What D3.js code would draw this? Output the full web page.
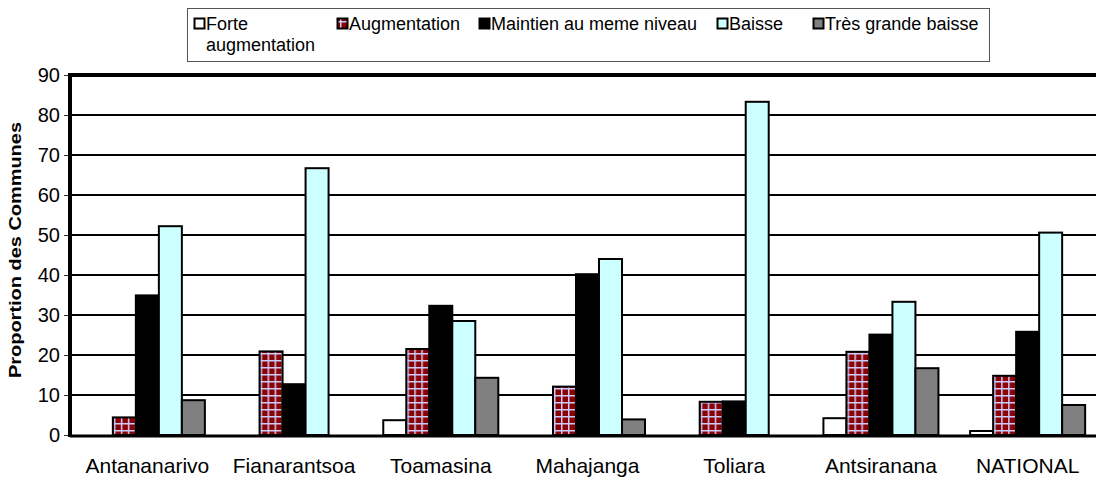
<!DOCTYPE html>
<html>
<head>
<meta charset="utf-8">
<script src="https://cdn.jsdelivr.net/npm/d3@7"></script>
<style>
  body { margin: 0; background: #fff; }
  text { font-family: "Liberation Sans", Arial, sans-serif; }
</style>
</head>
<body>
<script>
    // data
    const regions = ["Antananarivo", "Fianarantsoa", "Toamasina", "Mahajanga", "Toliara", "Antsiranana", "NATIONAL"];
    const seriesNames = ["Forte augmentation", "Augmentation", "Maintien au meme niveau", "Baisse", "Très grande baisse"];
    const forte = [0, 0, 3.7, 0, 0, 4.2, 1.0];
    const augmentation = [4.4, 20.9, 21.5, 12.1, 8.3, 20.8, 14.8];
    const maintien = [34.9, 12.7, 32.3, 40.2, 8.4, 25.1, 25.8];
    const baisse = [52.2, 66.7, 28.5, 44.0, 83.3, 33.3, 50.6];
    const tresBaisse = [8.7, 0, 14.3, 3.9, 0, 16.7, 7.5];
    const yTicks = [0, 10, 20, 30, 40, 50, 60, 70, 80, 90];

    const values = [forte, augmentation, maintien, baisse, tresBaisse];

    const W = 1096, H = 480;
    const plot = { left: 72, right: 1101, top: 75, bottom: 435 };

    const svg = d3.select("body").append("svg")
        .attr("width", W)
        .attr("height", H);

    // hatch for "Augmentation"
    const defs = svg.append("defs");
    const pat = defs.append("pattern")
        .attr("id", "grid")
        .attr("patternUnits", "userSpaceOnUse")
        .attr("width", 7).attr("height", 7);
    pat.append("rect").attr("width", 7).attr("height", 7).attr("fill", "#8b0000");
    pat.append("rect").attr("x", 3).attr("width", 1.5).attr("height", 7).attr("fill", "#ccccff");
    pat.append("rect").attr("y", 3).attr("width", 7).attr("height", 1.5).attr("fill", "#ccccff");

    const fills = ["#ffffff", "url(#grid)", "#000000", "#ccffff", "#808080"];

    const x0 = d3.scaleBand()
        .domain(regions)
        .range([plot.left + 2, plot.right])
        .paddingInner(0.216)
        .paddingOuter(0.108);

    const x1 = d3.scaleBand()
        .domain(d3.range(seriesNames.length))
        .range([0, x0.bandwidth()]);

    const y = d3.scaleLinear()
        .domain([0, 90])
        .range([plot.bottom, plot.top]);

    // gridlines
    svg.append("g")
        .selectAll("line")
        .data(yTicks.slice(1, -1))
        .enter()
        .append("line")
        .attr("x1", plot.left).attr("x2", W)
        .attr("y1", d => y(d)).attr("y2", d => y(d))
        .attr("stroke", "#000")
        .attr("stroke-width", 2);

    // y axis with ticks and labels
    const yAxis = d3.axisLeft(y).tickValues(yTicks).tickSize(6).tickPadding(4);
    const ya = svg.append("g")
        .attr("transform", "translate(" + (plot.left - 2) + ",0)")
        .call(yAxis);
    ya.select(".domain").remove();
    ya.selectAll(".tick line").attr("stroke", "#333");
    ya.selectAll(".tick text")
        .attr("font-size", 20)
        .attr("fill", "#000")
        .style("font-family", "'Liberation Sans', Arial, sans-serif");

    // bars
    const groups = svg.append("g")
        .selectAll("g")
        .data(regions)
        .enter()
        .append("g")
        .attr("transform", d => "translate(" + x0(d) + ",0)");

    groups.selectAll("rect")
        .data((d, i) => values.map((v, s) => ({ s: s, v: v[i] })))
        .enter()
        .append("rect")
        .attr("x", d => x1(d.s))
        .attr("y", d => y(d.v))
        .attr("width", x1.bandwidth())
        .attr("height", d => y(0) - y(d.v))
        .attr("fill", d => fills[d.s])
        .attr("stroke", "#000")
        .attr("stroke-width", 2);

    // frame: top border, left axis, baseline
    svg.append("line")
        .attr("x1", plot.left - 2).attr("x2", W)
        .attr("y1", plot.top).attr("y2", plot.top)
        .attr("stroke", "#000").attr("stroke-width", 4);
    svg.append("line")
        .attr("x1", plot.left - 2).attr("x2", plot.left - 2)
        .attr("y1", plot.top - 2).attr("y2", plot.bottom + 2)
        .attr("stroke", "#000").attr("stroke-width", 4);
    svg.append("line")
        .attr("x1", plot.left - 2).attr("x2", W)
        .attr("y1", plot.bottom + 1).attr("y2", plot.bottom + 1)
        .attr("stroke", "#000").attr("stroke-width", 3);

    // category labels
    svg.append("g")
        .selectAll("text")
        .data(regions)
        .enter()
        .append("text")
        .attr("x", d => x0(d) + x0.bandwidth() / 2)
        .attr("y", 473)
        .attr("text-anchor", "middle")
        .attr("font-size", 21)
        .text(d => d);

    // y title (the original is stretched along its length)
    svg.append("text")
        .attr("transform", "translate(21,250) rotate(-90)")
        .attr("text-anchor", "middle")
        .attr("font-size", 16)
        .attr("font-weight", "bold")
        .attr("textLength", 256)
        .attr("lengthAdjust", "spacingAndGlyphs")
        .text("Proportion des Communes");

    // legend
    svg.append("rect")
        .attr("x", 187.5).attr("y", 8.5)
        .attr("width", 802).attr("height", 53)
        .attr("fill", "#fff")
        .attr("stroke", "#555");

    const legendX = [194, 337, 479, 717, 813];
    const lg = svg.append("g")
        .selectAll("g")
        .data(seriesNames)
        .enter()
        .append("g")
        .attr("transform", (d, i) => "translate(" + legendX[i] + ",18)");

    lg.append("rect")
        .attr("x", 0.5).attr("y", 0.5)
        .attr("width", 10).attr("height", 10)
        .attr("fill", (d, i) => fills[i])
        .attr("stroke", "#000")
        .attr("stroke-width", 2);

    lg.append("text")
        .attr("x", 12)
        .attr("y", 12)
        .attr("font-size", 18)
        .each(function (d, i) {
            const t = d3.select(this);
            if (i === 0) {
                t.append("tspan").attr("x", 12).text("Forte");
                t.append("tspan").attr("x", 12).attr("dy", 21).text("augmentation");
            } else {
                t.text(d);
            }
        });
</script>
</body>
</html>
